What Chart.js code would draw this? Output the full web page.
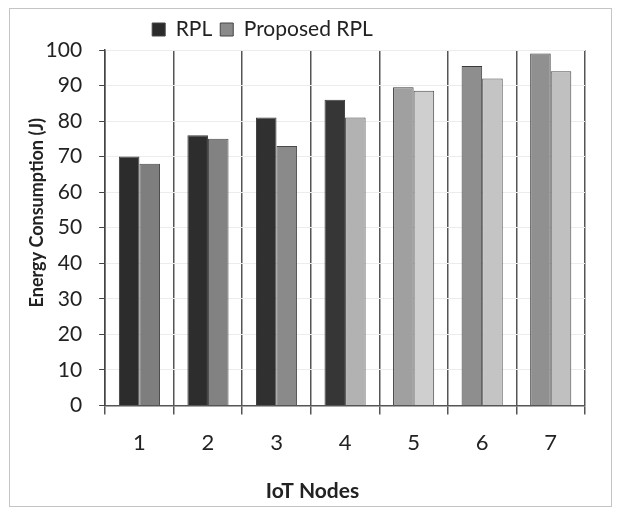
<!DOCTYPE html>
<html><head><meta charset="utf-8">
<script src="https://cdn.jsdelivr.net/npm/chart.js@4/dist/chart.umd.min.js"></script>
<style>html,body{margin:0;padding:0;background:#fff}#wrap{width:620px;height:518px;position:relative}</style>
</head><body><div id="wrap"><canvas id="c" width="620" height="518"></canvas></div>
<script>
const categories = ['1', '2', '3', '4', '5', '6', '7'];
const rplValues = [70, 76, 81, 86, 89.5, 95.5, 99];
const proposedValues = [68, 75, 73, 81, 88.5, 92, 94];
const seriesNames = ['RPL', 'Proposed RPL'];
const yTickLabels = [0, 10, 20, 30, 40, 50, 60, 70, 80, 90, 100];
const xTitle = 'IoT Nodes';
const yTitle = 'Energy Consumption (J)';

const rplColors = ['#2c2c2c', '#2d2d2d', '#303030', '#363636', '#a0a0a0', '#8e8e8e', '#909090'];
const propColors = ['#7e7e7e', '#828282', '#8a8a8a', '#b2b2b2', '#cfcfcf', '#c4c4c4', '#c0c0c0'];
const FONT = 'Lato, "Open Sans", sans-serif';

const framePlugin = {
  id: 'frame',
  beforeDraw(chart) {
    const ctx = chart.ctx;
    ctx.save();
    ctx.fillStyle = '#ffffff';
    ctx.fillRect(0, 0, chart.width, chart.height);
    ctx.strokeStyle = '#c4c4c4';
    ctx.lineWidth = 1;
    ctx.strokeRect(9.5, 8.5, 602, 498);
    ctx.restore();
  },
  afterLayout(chart) {
    // the reference places legend and titles slightly off-centre
    if (chart.legend) { chart.legend.left -= 43; chart.legend.right -= 43; }
    if (chart.titleBlock) { chart.titleBlock.left += 7; chart.titleBlock.right += 7; }
    const ys = chart.scales.y;
    if (ys && !ys._titleShifted) {
      const orig = ys.drawTitle;
      ys.drawTitle = function () {
        const t = this.top, b = this.bottom;
        this.top = t - 15; this.bottom = b - 15;
        orig.apply(this, arguments);
        this.top = t; this.bottom = b;
      };
      ys._titleShifted = true;
    }
  }
};

new Chart(document.getElementById('c'), {
  type: 'bar',
  data: {
    labels: categories,
    datasets: [
      { label: seriesNames[0], data: rplValues, backgroundColor: rplColors, borderColor: '#3a3a3a', borderWidth: 1, borderSkipped: 'bottom' },
      { label: seriesNames[1], data: proposedValues, backgroundColor: propColors, borderColor: '#4a4a4a', borderWidth: 1, borderSkipped: 'bottom' }
    ]
  },
  options: {
    responsive: false,
    animation: false,
    layout: { padding: { left: 26, right: 35, top: 11, bottom: 12 } },
    datasets: { bar: { categoryPercentage: 0.6, barPercentage: 1.0 } },
    plugins: {
      tooltip: { enabled: false },
      title: {
        display: true, position: 'bottom', text: xTitle, color: '#222',
        padding: { top: 8, bottom: 2 },
        font: { family: FONT, size: 21, weight: 'bold' }
      },
      legend: {
        position: 'top',
        labels: {
          boxWidth: 13, boxHeight: 13, padding: 8,
          color: '#222',
          font: { family: FONT, size: 21 },
          generateLabels(chart) {
            return chart.data.datasets.map((ds, i) => ({
              text: ds.label,
              fillStyle: i === 0 ? '#2b2b2b' : '#8a8a8a',
              strokeStyle: '#444',
              lineWidth: 1,
              datasetIndex: i,
              fontColor: '#222'
            }));
          }
        }
      }
    },
    scales: {
      x: {
        grid: { offset: true, color: '#555', lineWidth: 1.5, drawTicks: true, tickLength: 9, tickColor: '#555' },
        border: { display: true, color: '#555', width: 1.5 },
        ticks: { color: '#222', padding: 15, font: { family: FONT, size: 22 } },
        title: { display: false }
      },
      y: {
        min: 0, max: 100,
        afterBuildTicks(axis) { axis.ticks = yTickLabels.map(v => ({ value: v })); },
        grid: { color: '#ececec', lineWidth: 1, drawTicks: true, tickLength: 6, tickColor: '#444' },
        border: { display: true, color: '#444', width: 1.5 },
        ticks: { color: '#222', padding: 17, font: { family: FONT, size: 21 } },
        title: { display: true, text: yTitle, color: '#222', padding: { top: 0, bottom: -19 }, font: { family: FONT, size: 18, weight: 'bold' } }
      }
    }
  },
  plugins: [framePlugin]
});
</script>
</body></html>
